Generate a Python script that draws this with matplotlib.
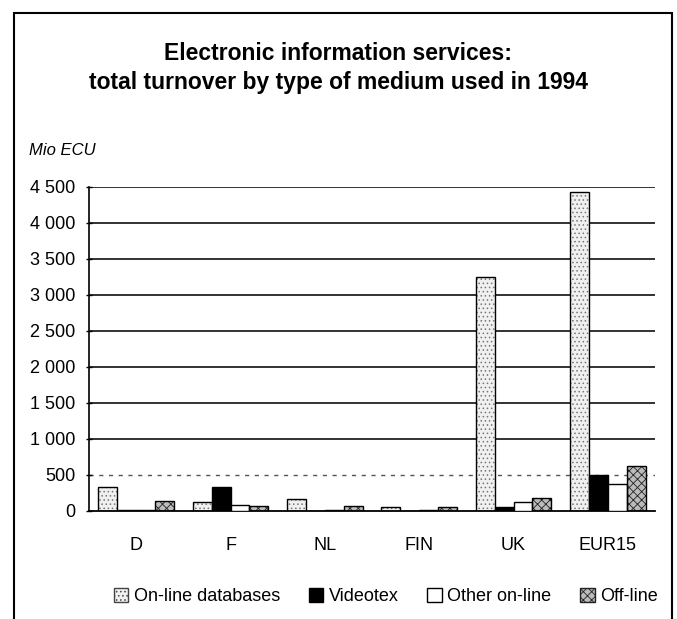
import matplotlib.pyplot as plt
import matplotlib.patches as mpatches
from matplotlib.ticker import FuncFormatter
import numpy as np

countries = ["D", "F", "NL", "FIN", "UK", "EUR15"]
online_db = [330, 130, 165, 55, 3250, 4430]
videotex = [20, 330, 5, 5, 50, 500]
other_online = [15, 80, 15, 10, 120, 375]
offline = [135, 70, 70, 50, 180, 625]

series_names = ["On-line databases", "Videotex", "Other on-line", "Off-line"]
y_ticks = [0, 500, 1000, 1500, 2000, 2500, 3000, 3500, 4000, 4500]

plt.rcParams["font.family"] = ["Liberation Sans", "DejaVu Sans"]
plt.rcParams["hatch.linewidth"] = 0.6

fig = plt.figure(figsize=(6.77, 6.19), dpi=100)
ax = fig.add_axes([0.1315, 0.1745, 0.836, 0.5235])

# frame around the whole chart
fig.patches.append(mpatches.Rectangle((0.0207, -0.01), 0.972, 0.989, transform=fig.transFigure,
                                      fill=False, edgecolor="black", linewidth=1.5))

x = np.arange(len(countries))
w = 0.2

# gridlines
for v in y_ticks[1:]:
    if v == 500:
        ax.axhline(v, color="#555555", lw=1.0, ls=(0, (3, 4)), zorder=0)
    else:
        ax.axhline(v, color="#222222", lw=1.3, zorder=0)

# on-line databases: stippled
ax.bar(x - 1.5 * w, online_db, w, color="#f0f0f0", edgecolor="#777777", hatch="....", lw=0, zorder=2)
ax.bar(x - 1.5 * w, online_db, w, fill=False, edgecolor="black", lw=1.0, zorder=3)
# videotex: solid black
ax.bar(x - 0.5 * w, videotex, w, color="black", edgecolor="black", lw=1.0, zorder=3)
# other on-line: white
ax.bar(x + 0.5 * w, other_online, w, color="white", edgecolor="black", lw=1.0, zorder=3)
# off-line: cross-hatched
ax.bar(x + 1.5 * w, offline, w, color="#bbbbbb", edgecolor="#222222", hatch="xxxx", lw=0, zorder=2)
ax.bar(x + 1.5 * w, offline, w, fill=False, edgecolor="black", lw=1.0, zorder=3)

ax.set_xlim(-0.5, 5.5)
ax.set_ylim(0, 4500)
ax.set_yticks(y_ticks)
ax.yaxis.set_major_formatter(FuncFormatter(lambda v, p: f"{int(v):,}".replace(",", " ")))
ax.set_xticks(x)
ax.set_xticklabels(countries)
ax.tick_params(axis="x", length=0, pad=19, labelsize=13)
ax.tick_params(axis="y", length=4, width=1, direction="inout", labelsize=13, pad=8)

for s in ["top", "right"]:
    ax.spines[s].set_visible(False)
ax.spines["left"].set_linewidth(1.2)
ax.spines["bottom"].set_linewidth(1.3)

fig.text(0.5, 0.89, "Electronic information services:\ntotal turnover by type of medium used in 1994",
         ha="center", va="center", fontsize=16.5, fontweight="bold", linespacing=1.3)
fig.text(0.043, 0.757, "Mio ECU", ha="left", va="center", fontsize=12, style="italic")

handles = [
    mpatches.Patch(facecolor="#f0f0f0", edgecolor="#444444", hatch="...."),
    mpatches.Patch(facecolor="black", edgecolor="black"),
    mpatches.Patch(facecolor="white", edgecolor="black"),
    mpatches.Patch(facecolor="#bbbbbb", edgecolor="#222222", hatch="xxxx"),
]
fig.legend(handles, series_names, loc="center", bbox_to_anchor=(0.57, 0.036), ncol=4,
           frameon=False, fontsize=13, handlelength=0.8, handleheight=0.8,
           handletextpad=0.3, columnspacing=1.6)

fig.savefig("out.png", dpi=100)
